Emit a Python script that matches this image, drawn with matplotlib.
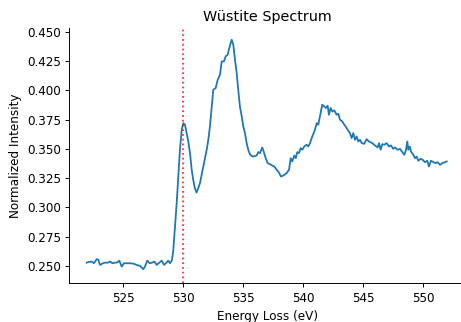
import matplotlib
matplotlib.use('Agg')
import matplotlib.pyplot as plt

energy = [521.95, 522.15, 522.37, 522.55, 522.78, 522.9, 523.06, 523.25, 523.45, 523.7,
          523.89, 524.1, 524.3, 524.5, 524.67, 524.87, 525.05, 525.3, 525.55, 525.83,
          526.1, 526.4, 526.67, 526.8, 527.0, 527.2, 527.4, 527.6, 527.78, 528.0,
          528.2, 528.4, 528.55, 528.75, 528.9, 529.06, 529.17, 529.31, 529.45, 529.58,
          529.72, 529.87, 530.0, 530.14, 530.28, 530.42, 530.56, 530.7, 530.83, 530.95,
          531.1, 531.25, 531.39, 531.53, 531.67, 531.81, 531.95, 532.1, 532.22, 532.36,
          532.5, 532.7, 532.87, 533.06, 533.2, 533.39, 533.53, 533.7, 533.83, 534.03,
          534.17, 534.31, 534.45, 534.58, 534.72, 534.87, 535.0, 535.14, 535.28, 535.42,
          535.56, 535.7, 535.83, 536.11, 536.25, 536.39, 536.58, 536.7, 536.87, 537.03,
          537.22, 537.42, 537.58, 537.78, 537.92, 538.14, 538.33, 538.61, 538.81, 538.95,
          539.08, 539.25, 539.37, 539.5, 539.64, 539.78, 539.92, 540.08, 540.28, 540.42,
          540.56, 540.7, 540.97, 541.12, 541.25, 541.39, 541.58, 541.75, 541.89, 542.03,
          542.14, 542.28, 542.42, 542.58, 542.78, 542.92, 543.06, 543.25, 543.42, 543.53,
          543.7, 543.89, 544.03, 544.17, 544.31, 544.45, 544.58, 544.72, 544.87, 545.08,
          545.28, 545.47, 545.75, 545.97, 546.2, 546.31, 546.45, 546.58, 546.75, 546.95,
          547.14, 547.31, 547.5, 547.64, 547.86, 548.06, 548.25, 548.42, 548.56, 548.67,
          548.75, 548.87, 548.98, 549.17, 549.31, 549.45, 549.58, 549.78, 549.95, 550.14,
          550.33, 550.47, 550.64, 550.83, 551.03, 551.2, 551.39, 551.58, 551.81, 551.95]

intensity = [0.2528, 0.2535, 0.2537, 0.2523, 0.2557, 0.2555, 0.2509, 0.2520, 0.2528, 0.2528,
             0.2537, 0.2523, 0.2528, 0.2530, 0.2545, 0.2494, 0.2523, 0.2523, 0.2523, 0.2520,
             0.2509, 0.2500, 0.2472, 0.2494, 0.2545, 0.2523, 0.2528, 0.2537, 0.2509, 0.2528,
             0.2545, 0.2509, 0.2523, 0.2545, 0.2523, 0.2551, 0.2637, 0.2836, 0.3037, 0.3264,
             0.3493, 0.3664, 0.3721, 0.3707, 0.3636, 0.3564, 0.3464, 0.3322, 0.3236, 0.3170,
             0.3127, 0.3165, 0.3208, 0.3280, 0.3350, 0.3420, 0.3493, 0.3590, 0.3692, 0.3850,
             0.4006, 0.4021, 0.4092, 0.4135, 0.4248, 0.4248, 0.4291, 0.4306, 0.4363, 0.4434,
             0.4391, 0.4263, 0.4149, 0.4006, 0.3863, 0.3778, 0.3692, 0.3636, 0.3550, 0.3490,
             0.3455, 0.3440, 0.3435, 0.3444, 0.3473, 0.3464, 0.3513, 0.3478, 0.3421, 0.3379,
             0.3370, 0.3358, 0.3350, 0.3322, 0.3307, 0.3264, 0.3273, 0.3293, 0.3322, 0.3421,
             0.3393, 0.3444, 0.3421, 0.3473, 0.3464, 0.3507, 0.3493, 0.3521, 0.3536, 0.3521,
             0.3550, 0.3593, 0.3664, 0.3721, 0.3707, 0.3778, 0.3878, 0.3863, 0.3850, 0.3869,
             0.3792, 0.3850, 0.3821, 0.3830, 0.3792, 0.3801, 0.3750, 0.3735, 0.3707, 0.3692,
             0.3664, 0.3636, 0.3593, 0.3636, 0.3578, 0.3607, 0.3564, 0.3578, 0.3550, 0.3544,
             0.3584, 0.3564, 0.3550, 0.3530, 0.3513, 0.3550, 0.3493, 0.3541, 0.3536, 0.3550,
             0.3521, 0.3530, 0.3501, 0.3513, 0.3493, 0.3501, 0.3473, 0.3450, 0.3493, 0.3564,
             0.3493, 0.3521, 0.3478, 0.3450, 0.3421, 0.3435, 0.3399, 0.3416, 0.3407, 0.3387,
             0.3399, 0.3350, 0.3399, 0.3387, 0.3379, 0.3387, 0.3364, 0.3379, 0.3387, 0.3393]

edge_energy = 530

# reference looks like it was saved at a lower dpi, so keep the pixel size with dpi 86
dpi = 86
fig = plt.figure(figsize=(461 / dpi, 322 / dpi), dpi=dpi)
ax = fig.add_axes([0.1503, 0.1196, 0.859, 0.792])
ax.plot(energy, intensity, color='#1f77b4', linewidth=1.5)
ax.axvline(edge_energy, color='red', linestyle=':', linewidth=1.5, alpha=0.8)
ax.set_xlim(520.5, 553.5)
ax.set_ylim(0.235, 0.453)
ax.set_xticks([525, 530, 535, 540, 545, 550])
ax.set_title('Wüstite Spectrum')
ax.set_xlabel('Energy Loss (eV)')
ax.set_ylabel('Normalized Intensity')
ax.spines['top'].set_visible(False)
ax.spines['right'].set_visible(False)
fig.savefig('out.png', dpi=dpi)
